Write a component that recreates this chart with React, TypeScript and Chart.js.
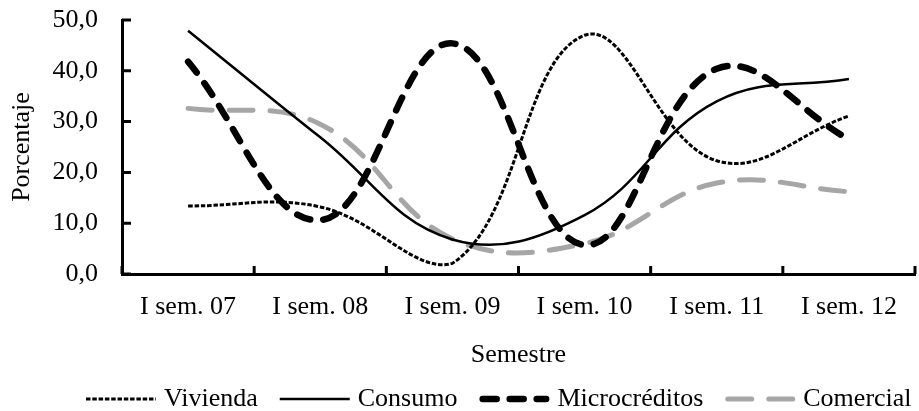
import React, { useEffect, useRef } from "react";
import { Chart, registerables } from "chart.js";

Chart.register(...registerables);

const categories = ["I sem. 07", "I sem. 08", "I sem. 09", "I sem. 10", "I sem. 11", "I sem. 12"];
const vivienda = [13.4, 13.2, 2.1, 47.0, 22.3, 31.1];
const consumo = [47.9, 26.9, 6.8, 11.6, 34.0, 38.4];
const microcreditos = [41.8, 10.6, 45.4, 5.7, 40.4, 26.5];
const comercial = [32.6, 29.5, 6.9, 6.0, 17.9, 16.2];
const yMin = 0;
const yMax = 50;
const yStep = 10;
const xTitle = "Semestre";
const yTitle = "Porcentaje";

const FONT = "'Liberation Serif', 'Times New Roman', serif";
const FS = 26;

const inwardTicks = {
  id: "inwardTicks",
  afterDraw(chart: any) {
    const { ctx, chartArea, scales } = chart;
    const x = scales.x;
    const y = scales.y;
    ctx.save();
    ctx.strokeStyle = "#000";
    ctx.lineWidth = 3;
    ctx.beginPath();
    y.ticks.forEach((t: any) => {
      const py = y.getPixelForValue(t.value);
      ctx.moveTo(chartArea.left, py);
      ctx.lineTo(chartArea.left + 9, py);
    });
    const n = x.ticks.length;
    const step = x.getPixelForValue(1) - x.getPixelForValue(0);
    for (let i = 0; i <= n; i++) {
      const px = x.getPixelForValue(0) + (i - 0.5) * step;
      ctx.moveTo(px, chartArea.bottom);
      ctx.lineTo(px, chartArea.bottom - 8);
    }
    ctx.stroke();
    ctx.restore();
  },
};

const lineLegend = {
  id: "lineLegend",
  afterDraw(chart: any) {
    const ctx = chart.ctx;
    ctx.save();
    ctx.font = `${FS}px ${FONT}`;
    ctx.textBaseline = "middle";
    ctx.textAlign = "left";
    let x = 86;
    const y = 399;
    const sample = 70;
    chart.data.datasets.forEach((ds: any) => {
      ctx.save();
      ctx.strokeStyle = ds.borderColor;
      ctx.lineWidth = ds.borderWidth;
      ctx.setLineDash(ds.borderDash || []);
      const cap = ds.borderCapStyle || "butt";
      ctx.lineCap = cap;
      const pad = cap === "round" ? ds.borderWidth / 2 : 0;
      ctx.beginPath();
      ctx.moveTo(x + pad, y);
      ctx.lineTo(x + sample - pad, y);
      ctx.stroke();
      ctx.restore();
      x += sample + 8;
      ctx.fillStyle = "#000";
      ctx.fillText(ds.label, x, y);
      x += ctx.measureText(ds.label).width + 22;
    });
    ctx.restore();
  },
};

export default function App() {
  const ref = useRef<HTMLCanvasElement | null>(null);

  useEffect(() => {
    if (!ref.current) return;
    const chart = new Chart(ref.current, {
      type: "line",
      data: {
        labels: categories,
        datasets: [
          {
            label: "Vivienda",
            data: vivienda,
            borderColor: "#000000",
            borderWidth: 3,
            borderDash: [4.5, 1.8],
            borderCapStyle: "butt",
            pointRadius: 0,
            tension: 0.4,
            fill: false,
          },
          {
            label: "Consumo",
            data: consumo,
            borderColor: "#000000",
            borderWidth: 2.5,
            borderDash: [],
            borderCapStyle: "butt",
            pointRadius: 0,
            tension: 0.4,
            fill: false,
          },
          {
            label: "Microcréditos",
            data: microcreditos,
            borderColor: "#000000",
            borderWidth: 6.5,
            borderDash: [14, 13],
            borderCapStyle: "round",
            pointRadius: 0,
            tension: 0.4,
            fill: false,
          },
          {
            label: "Comercial",
            data: comercial,
            borderColor: "#a6a6a6",
            borderWidth: 5,
            borderDash: [24, 17],
            borderCapStyle: "round",
            pointRadius: 0,
            tension: 0.4,
            fill: false,
          },
        ],
      },
      options: {
        responsive: false,
        animation: false,
        events: [],
        layout: { padding: { left: 0, right: 4, top: 20, bottom: 0 } },
        plugins: {
          legend: { display: false },
          tooltip: { enabled: false },
          title: { display: false },
        },
        scales: {
          x: {
            type: "category",
            offset: true,
            grid: { display: true, drawOnChartArea: false, drawTicks: false, offset: true },
            border: { display: true, color: "#000", width: 3 },
            ticks: {
              color: "#000",
              font: { family: FONT, size: FS },
              padding: 18,
              maxRotation: 0,
              autoSkip: false,
            },
            title: {
              display: true,
              text: xTitle,
              color: "#000",
              font: { family: FONT, size: FS },
              padding: { top: 0, bottom: 40 },
            },
            afterFit(scale: any) {
              scale.height = 137;
            },
          },
          y: {
            min: yMin,
            max: yMax,
            grid: { display: true, drawOnChartArea: false, drawTicks: false },
            border: { display: true, color: "#000", width: 3 },
            ticks: {
              stepSize: yStep,
              color: "#000",
              font: { family: FONT, size: FS },
              padding: 24,
              callback: (v: any) => Number(v).toFixed(1).replace(".", ","),
            },
            title: {
              display: true,
              text: yTitle,
              color: "#000",
              font: { family: FONT, size: FS },
              padding: { top: 7, bottom: 0 },
            },
            afterFit(scale: any) {
              scale.width = 122;
              scale.paddingTop = 10;
              scale.paddingBottom = 10;
            },
          },
        },
      },
      plugins: [inwardTicks, lineLegend],
    });
    return () => chart.destroy();
  }, []);

  return (
    <div style={{ position: "fixed", left: 0, top: 0, width: 919, height: 411, background: "#fff" }}>
      <canvas ref={ref} width={919} height={411} style={{ display: "block" }} />
    </div>
  );
}
